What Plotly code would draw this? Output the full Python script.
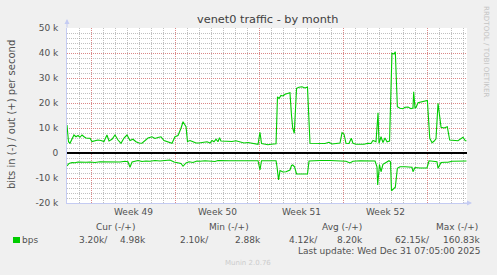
import pandas as pd
import plotly.graph_objects as go

# ---------------- data ----------------
start_time = "2025-11-27 23:05"
end_time = "2025-12-31 07:05"

# time offsets (days after start_time) and values (kbit/s)
out_days = [0.00, 0.125, 0.25, 0.42, 0.58, 0.75, 0.92, 1.08, 1.25, 1.42, 1.58, 1.75, 1.92, 2.08,
            2.33, 2.58, 2.83, 3.08, 3.33, 3.5, 3.75, 4.0, 4.25, 4.5, 4.75, 5.0, 5.25, 5.5, 5.75,
            6.0, 6.25, 6.5, 6.75, 7.08, 7.33, 7.58, 7.83, 8.08, 8.33, 8.58, 8.75, 9.0, 9.25, 9.5,
            9.67, 9.79, 9.92, 10.04, 10.25, 10.5, 10.75, 11.0, 11.33, 11.67, 11.92, 12.08, 12.25,
            12.42, 12.58, 12.71, 12.83, 13.08, 13.42, 13.75, 14.08, 14.42, 14.75, 15.08, 15.42,
            15.67, 15.92, 16.08, 16.21, 16.42, 16.75, 17.0, 17.25, 17.42, 17.54, 17.67, 17.83,
            18.0, 18.17, 18.42, 18.58, 18.71, 18.81, 18.94, 19.13, 19.33, 19.58, 19.83, 20.04,
            20.25, 20.67, 21.08, 21.5, 21.83, 22.08, 22.42, 22.75, 22.92, 23.08, 23.25, 23.5,
            23.69, 23.83, 24.08, 24.42, 24.75, 25.08, 25.33, 25.5, 25.75, 25.92, 26.0, 26.17,
            26.33, 26.5, 26.67, 26.88, 27.08, 27.25, 27.36, 27.53, 27.75, 28.0, 28.17, 28.42,
            28.67, 28.83, 28.89, 29.0, 29.08, 29.25, 29.58, 29.83, 30.03, 30.23, 30.42, 30.58,
            30.75, 30.92, 31.17, 31.42, 31.69, 31.89, 32.17, 32.58, 33.0, 33.19, 33.29]
out_k = [11.2, 4.5, 3.9, 6.0, 7.2, 6.5, 7.0, 6.3, 7.2, 6.5, 6.0, 5.9, 5.9, 4.6,
         4.8, 5.2, 5.0, 4.6, 7.2, 4.8, 5.5, 7.2, 5.2, 3.9, 6.0, 7.2, 5.0, 5.5, 4.5,
         4.0, 3.9, 5.0, 6.0, 6.5, 5.8, 6.2, 6.5, 5.0, 4.5, 4.2, 3.9, 6.5, 7.0, 9.9,
         12.5, 11.5, 10.5, 4.6, 5.0, 4.5, 4.0, 4.0, 4.2, 4.5, 4.0, 5.0, 4.5,
         5.5, 4.5, 6.1, 4.8, 4.8, 4.5, 4.6, 4.9, 4.3, 4.0, 4.2, 4.0,
         3.7, 3.5, 8.3, 3.8, 3.6, 3.3, 3.5, 3.6, 3.7, 22.5, 21.8, 23.0,
         22.8, 23.5, 23.9, 24.1, 15.0, 9.9, 7.9, 25.9, 26.3, 26.5, 26.0, 26.4,
         3.9, 3.8, 3.7, 3.8, 4.3, 3.6, 3.8, 4.0, 8.1, 7.6, 3.9, 3.8,
         5.9, 3.9, 3.5, 3.6, 3.5, 3.9, 3.8, 5.0, 4.5, 16.1, 3.9, 6.5,
         4.2, 6.0, 4.5, 4.8, 39.9, 39.6, 40.5, 18.5, 17.9, 17.7, 18.3, 18.4,
         17.7, 18.0, 24.5, 18.0, 18.2, 20.1, 20.4, 20.6, 21.0, 5.9, 4.1, 4.7,
         5.7, 19.9, 10.3, 10.0, 10.5, 5.2, 5.0, 4.9, 6.3, 4.9, 4.9]

in_days = [0.0, 0.17, 0.42, 0.67, 0.92, 1.25, 1.58, 1.92, 2.33, 2.75, 3.17, 3.58, 4.0, 4.42,
           4.83, 5.08, 5.25, 5.42, 5.67, 5.92, 6.25, 6.58, 6.92, 7.33, 7.75, 8.17, 8.58, 8.92,
           9.25, 9.5, 9.67, 9.92, 10.17, 10.5, 10.83, 11.08, 11.5, 11.92, 12.33, 12.58, 12.92,
           13.58, 14.42, 15.25, 15.92, 16.08, 16.21, 16.92, 17.42, 17.5, 17.63, 17.75, 18.0,
           18.25, 18.58, 18.71, 18.81, 18.96, 19.13, 19.42, 19.75, 20.04, 20.17, 20.67, 21.08,
           21.92, 22.58, 22.92, 23.25, 23.58, 23.83, 24.42, 25.08, 25.67, 25.83, 25.89, 26.04,
           26.17, 26.33, 26.58, 26.83, 26.96, 27.04, 27.17, 27.36, 27.53, 27.75, 28.17, 28.58,
           28.75, 28.83, 29.0, 29.42, 30.0, 30.17, 30.5, 30.83, 30.92, 31.17, 31.5, 31.75,
           32.08, 32.58, 33.0, 33.29]
in_k = [-5.2, -4.2, -3.8, -3.9, -3.6, -3.5, -3.7, -3.6, -3.8, -3.5, -3.6, -3.4, -3.5, -3.6,
        -3.3, -3.5, -5.7, -3.6, -3.3, -3.0, -3.4, -3.2, -3.3, -3.0, -3.2, -3.0, -2.8, -3.6,
        -4.0, -4.2, -5.3, -4.0, -3.5, -3.8, -3.2, -3.3, -3.1, -3.2, -3.4, -3.0, -3.1,
        -3.1, -3.1, -3.1, -3.1, -6.8, -3.1, -3.1, -3.1, -5.5, -10.8, -7.0, -7.6,
        -7.5, -6.8, -5.0, -4.8, -5.5, -8.4, -8.4, -8.4, -8.4, -3.2, -3.0, -3.0,
        -3.0, -3.1, -3.0, -3.3, -4.0, -3.3, -3.1, -3.1, -3.2, -5.5, -12.8, -4.6,
        -7.5, -4.5, -3.8, -3.1, -3.5, -15.1, -14.5, -13.7, -6.1, -5.5, -5.5, -5.6,
        -5.7, -7.5, -5.8, -6.0, -6.0, -3.1, -3.2, -3.5, -6.1, -3.8, -3.7, -3.7,
        -3.3, -3.2, -3.1, -3.2]

week_starts = ["2025-11-30", "2025-12-07", "2025-12-14", "2025-12-21", "2025-12-28"]
week_label_pos = ["2025-12-03 12:00", "2025-12-10 12:00", "2025-12-17 12:00", "2025-12-24 12:00"]
week_labels = ["Week 49", "Week 50", "Week 51", "Week 52"]
y_ticks = [-20000, -10000, 0, 10000, 20000, 30000, 40000, 50000]
y_ticktext = ["-20 k", "-10 k", "0", "10 k", "20 k", "30 k", "40 k", "50 k"]

legend_headers = ["Cur (-/+)", "Min (-/+)", "Avg (-/+)", "Max (-/+)"]
legend_in = ["3.20k/", "2.10k/", "4.12k/", "62.15k/"]
legend_out = ["4.98k", "2.88k", "8.20k", "160.83k"]

# ---------------- figure ----------------
t0 = pd.Timestamp(start_time)
out_t = [t0 + pd.Timedelta(days=d) for d in out_days]
in_t = [t0 + pd.Timedelta(days=d) for d in in_days]

GREEN = "#00cc00"
FONT = "DejaVu Sans"
TXT = "#505050"
AXIS_BLUE = "#c4cbf2"
RED_GRID = "rgba(225,120,120,0.8)"
GRAY_GRID = "rgba(150,150,150,0.6)"

fig = go.Figure()
fig.add_trace(go.Scatter(x=out_t, y=[v * 1000 for v in out_k], mode="lines",
                         line=dict(color=GREEN, width=1.1), hoverinfo="skip", showlegend=False))
fig.add_trace(go.Scatter(x=in_t, y=[v * 1000 for v in in_k], mode="lines", xaxis="x2",
                         line=dict(color=GREEN, width=1.1), hoverinfo="skip", showlegend=False))

W, H = 497, 275
L, R, T, B = 67, 30, 28, 72
pw, ph = W - L - R, H - T - B


def px(x):
    return (x - L) / pw


def py(y):
    return (H - B - y) / ph


fig.update_layout(
    width=W, height=H,
    margin=dict(l=L, r=R, t=T, b=B),
    paper_bgcolor="#f0f0f0",
    plot_bgcolor="#ffffff",
    font=dict(family=FONT, size=9, color=TXT),
    showlegend=False,
    xaxis=dict(type="date", range=[start_time, end_time], tickmode="array",
               tickvals=week_starts, showticklabels=False, ticks="",
               showgrid=True, gridcolor=RED_GRID, griddash="1px,1px", gridwidth=1,
               minor=dict(dtick=86400000, tick0="2025-11-30", showgrid=True,
                          gridcolor=GRAY_GRID, griddash="1px,1px", gridwidth=1, ticks=""),
               showline=True, linecolor=AXIS_BLUE, linewidth=1, zeroline=False, fixedrange=True),
    xaxis2=dict(type="date", range=[start_time, end_time], overlaying="x", side="bottom",
                anchor="y", tickmode="array", tickvals=week_label_pos, ticktext=week_labels,
                showgrid=False, ticks="", showline=False, zeroline=False,
                ticklabelstandoff=2,
                tickfont=dict(family=FONT, size=9, color=TXT), fixedrange=True),
    yaxis=dict(range=[-20000, 50000], tickmode="array", tickvals=y_ticks, ticktext=y_ticktext,
               showgrid=True, gridcolor=RED_GRID, griddash="1px,1px", gridwidth=1,
               minor=dict(dtick=2000, showgrid=True, gridcolor=GRAY_GRID,
                          griddash="1px,1px", gridwidth=1, ticks=""),
               zeroline=True, zerolinecolor="#000000", zerolinewidth=1.5,
               showline=True, linecolor=AXIS_BLUE, linewidth=1, ticks="",
               ticklabelstandoff=6,
               tickfont=dict(family=FONT, size=9, color=TXT), fixedrange=True),
)

ann = []
ann.append(dict(text="venet0 traffic - by month", x=0.5, y=py(20), xref="paper", yref="paper",
                xanchor="center", yanchor="middle", showarrow=False,
                font=dict(family=FONT, size=11.3, color="#404040")))
ann.append(dict(text="bits in (-) / out (+) per second", x=px(11), y=py(115), xref="paper",
                yref="paper", xanchor="center", yanchor="middle", textangle=-90, showarrow=False,
                font=dict(family=FONT, size=10, color=TXT)))
ann.append(dict(text="RRDTOOL / TOBI OETIKER", x=px(487), y=py(51), xref="paper", yref="paper",
                xanchor="center", yanchor="middle", textangle=90, showarrow=False,
                font=dict(family=FONT, size=7.1, color="#c4c4c4")))
# axis arrows
ann.append(dict(x=px(67), y=py(19), xref="paper", yref="paper", ax=0, ay=10, text="",
                showarrow=True, arrowhead=2, arrowsize=1, arrowwidth=1, arrowcolor=AXIS_BLUE))
ann.append(dict(x=px(472), y=py(203), xref="paper", yref="paper", ax=-10, ay=0, text="",
                showarrow=True, arrowhead=2, arrowsize=1, arrowwidth=1, arrowcolor=AXIS_BLUE))

hdr_right = [137, 251, 364, 480]
in_right = [110, 211, 320, 432]
out_right = [148, 263, 365, 482]
for i in range(4):
    ann.append(dict(text=legend_headers[i], x=px(hdr_right[i]), y=py(227), xref="paper",
                    yref="paper", xanchor="right", yanchor="middle", showarrow=False))
    ann.append(dict(text=legend_in[i], x=px(in_right[i]), y=py(240), xref="paper",
                    yref="paper", xanchor="right", yanchor="middle", showarrow=False))
    ann.append(dict(text=legend_out[i], x=px(out_right[i]), y=py(240), xref="paper",
                    yref="paper", xanchor="right", yanchor="middle", showarrow=False))
ann.append(dict(text="bps", x=px(20), y=py(240), xref="paper", yref="paper",
                xanchor="left", yanchor="middle", showarrow=False))
ann.append(dict(text="Last update: Wed Dec 31 07:05:00 2025", x=px(482), y=py(251),
                xref="paper", yref="paper", xanchor="right", yanchor="middle", showarrow=False))
ann.append(dict(text="Munin 2.0.76", x=px(248), y=py(263), xref="paper", yref="paper",
                xanchor="center", yanchor="middle", showarrow=False,
                font=dict(family=FONT, size=7, color="#cccccc")))
fig.update_layout(annotations=ann)

fig.add_shape(type="rect", xref="paper", yref="paper", x0=px(13), x1=px(20), y0=py(243),
              y1=py(237), fillcolor=GREEN, line=dict(width=0))

fig.write_html("out.html")
